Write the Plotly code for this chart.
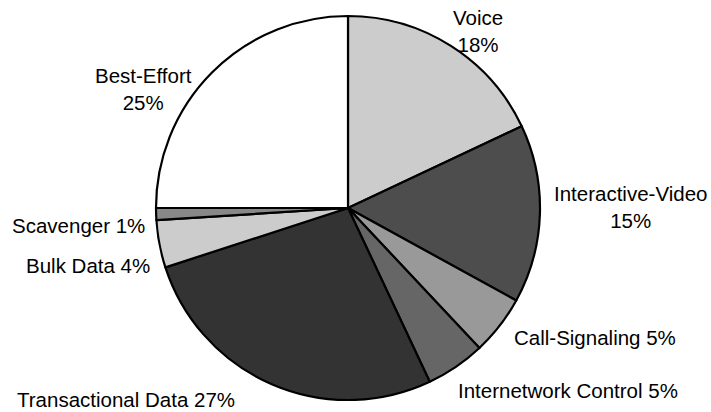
import plotly.graph_objects as go

# Traffic class share (percent), clockwise from 12 o'clock
classes = ["Voice", "Interactive-Video", "Call-Signaling", "Internetwork Control",
           "Transactional Data", "Bulk Data", "Scavenger", "Best-Effort"]
shares = [18, 15, 5, 5, 27, 4, 1, 25]
fills = ["#cccccc", "#4d4d4d", "#999999", "#666666",
         "#333333", "#cccccc", "#888888", "#ffffff"]

W, H = 711, 412
cx, cy, r = 348, 208, 192

fig = go.Figure(go.Pie(
    labels=classes,
    values=shares,
    sort=False,
    direction="clockwise",
    rotation=0,
    textinfo="none",
    hoverinfo="skip",
    showlegend=False,
    marker=dict(colors=fills, line=dict(color="black", width=2.2)),
    domain=dict(x=[(cx - r) / W, (cx + r) / W],
                y=[(H - cy - r) / H, (H - cy + r) / H]),
))

# label placement: (pixel x, pixel y of text centre, anchor, line break)
label_spots = [
    (478, 31, "center", "<br>"),
    (630, 207, "center", "<br>"),
    (595, 337, "center", " "),
    (568, 390, "center", " "),
    (126, 399, "center", " "),
    (152, 265, "right", " "),
    (147, 225, "right", " "),
    (143, 89, "center", "<br>"),
]

for name, val, (px, py, anchor, sep) in zip(classes, shares, label_spots):
    fig.add_annotation(
        x=px / W, y=1 - py / H, xref="paper", yref="paper",
        text=f"{name}{sep}{val}%",
        showarrow=False,
        xanchor=anchor, yanchor="middle", align="center",
        font=dict(family="Liberation Sans, Arial, sans-serif", size=20.5, color="black"),
    )

fig.update_layout(
    width=W, height=H,
    margin=dict(l=0, r=0, t=0, b=0),
    paper_bgcolor="white", plot_bgcolor="white",
)

fig.write_html("out.html")
